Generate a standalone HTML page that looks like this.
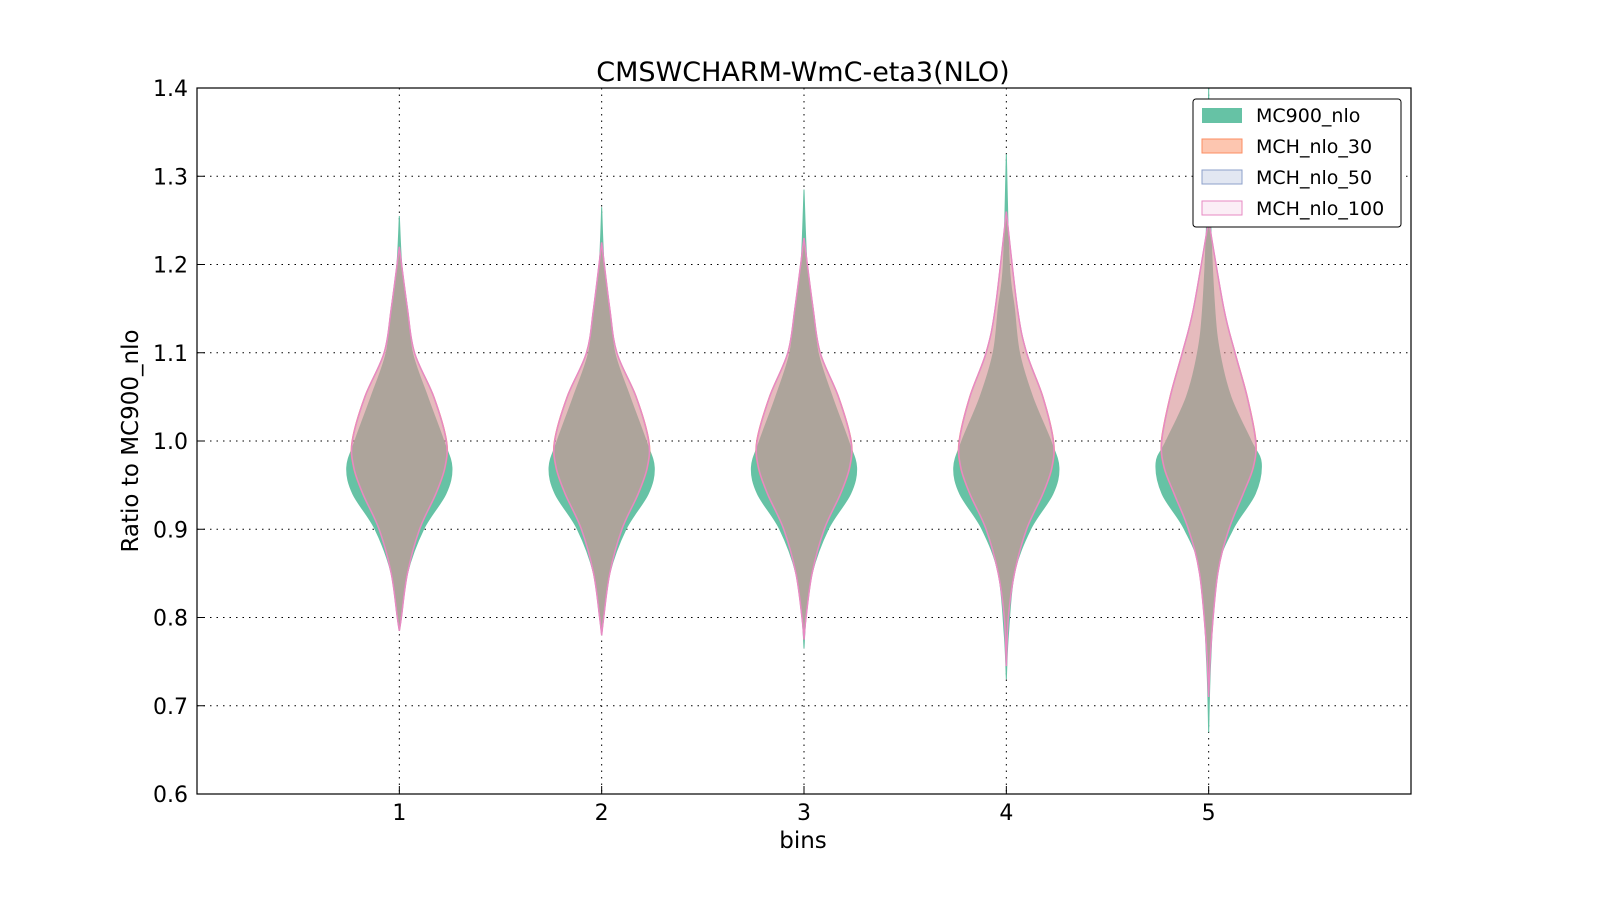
<!DOCTYPE html>
<html><head><meta charset="utf-8"><style>
body{margin:0;background:#fff}
svg text{font-family:"DejaVu Sans","Liberation Sans",sans-serif}
</style></head><body>
<svg id="c" width="1600" height="900" viewBox="0 0 1600 900" xmlns="http://www.w3.org/2000/svg">
<rect width="1600" height="900" fill="#fff"/>
<text x="803" y="81" font-size="27" text-anchor="middle">CMSWCHARM-WmC-eta3(NLO)</text>
<g id="grid"></g>
<g id="marks"></g>
<rect x="197" y="88" width="1214" height="706" fill="none" stroke="#000" stroke-width="1.2"/>
<g id="axes"></g>
<text x="803" y="848" font-size="23" text-anchor="middle">bins</text>
<text transform="translate(138,441) rotate(-90)" font-size="23" text-anchor="middle">Ratio to MC900_nlo</text>
<g>
<rect x="1193" y="99" width="208" height="128" rx="3" fill="#fff" stroke="#000" stroke-width="1"/>
<rect x="1202" y="108" width="40" height="15" fill="#66c2a5"/>
<text x="1256" y="122" font-size="19">MC900_nlo</text>
<rect x="1202" y="139" width="40" height="14" fill="rgba(252,141,98,0.5)" stroke="#fc8d62"/>
<text x="1256" y="153" font-size="19">MCH_nlo_30</text>
<rect x="1202" y="170" width="40" height="14" fill="rgba(141,160,203,0.25)" stroke="#8da0cb"/>
<text x="1256" y="184" font-size="19">MCH_nlo_50</text>
<rect x="1202" y="201" width="40" height="14" fill="rgba(231,138,195,0.15)" stroke="#e78ac3"/>
<text x="1256" y="215" font-size="19">MCH_nlo_100</text>
</g>
</svg>
<script>
const bins=[1,2,3,4,5];
const yTicks=[0.6,0.7,0.8,0.9,1.0,1.1,1.2,1.3,1.4];
const yTickLabels=["0.6","0.7","0.8","0.9","1.0","1.1","1.2","1.3","1.4"];
const greenLevels=[
[1.255,1.2,1.15,1.1,1.05,1.0,0.97,0.94,0.9,0.85,0.8,0.785],
[1.265,1.2,1.15,1.1,1.05,1.0,0.97,0.94,0.9,0.85,0.8,0.78],
[1.285,1.2,1.15,1.1,1.05,1.0,0.97,0.94,0.9,0.85,0.8,0.765],
[1.325,1.2,1.15,1.1,1.05,1.0,0.97,0.94,0.9,0.85,0.78,0.73],
[1.4,1.25,1.15,1.1,1.05,1.0,0.975,0.94,0.9,0.85,0.75,0.67]];
const greenWidths=[
[0,0.012,0.04,0.065,0.14,0.22,0.26,0.23,0.12,0.04,0.01,0],
[0,0.012,0.04,0.065,0.14,0.22,0.26,0.23,0.12,0.04,0.01,0],
[0,0.015,0.045,0.07,0.14,0.22,0.26,0.23,0.12,0.04,0.01,0],
[0,0.015,0.04,0.065,0.13,0.22,0.26,0.23,0.12,0.04,0.01,0],
[0,0.01,0.03,0.055,0.11,0.21,0.26,0.23,0.12,0.04,0.01,0]];
const pinkLevels=[
[1.22,1.15,1.1,1.05,1.0,0.97,0.94,0.9,0.85,0.8,0.785],
[1.225,1.15,1.1,1.05,1.0,0.97,0.94,0.9,0.85,0.8,0.78],
[1.23,1.15,1.1,1.05,1.0,0.97,0.94,0.9,0.85,0.8,0.775],
[1.26,1.15,1.1,1.05,1.0,0.97,0.94,0.9,0.85,0.8,0.745],
[1.25,1.15,1.1,1.05,1.0,0.97,0.94,0.9,0.85,0.77,0.71]];
const pinkWidths=[
[0,0.04,0.075,0.17,0.232,0.225,0.18,0.10,0.04,0.01,0],
[0,0.04,0.075,0.17,0.232,0.225,0.18,0.10,0.04,0.01,0],
[0,0.045,0.08,0.17,0.232,0.225,0.18,0.10,0.04,0.01,0],
[0,0.055,0.1,0.18,0.232,0.225,0.18,0.10,0.04,0.01,0],
[0,0.075,0.13,0.19,0.232,0.22,0.17,0.10,0.045,0.012,0]];
const NS='http://www.w3.org/2000/svg';
const X=v=>197+v*(1214/6), Y=v=>88+(1.4-v)*(706/0.8), W=w=>w*(1214/6);
function mk(t,a,p){const e=document.createElementNS(NS,t);for(const k in a)e.setAttribute(k,a[k]);p.appendChild(e);return e;}
const grid=document.getElementById('grid'),axes=document.getElementById('axes'),marks=document.getElementById('marks');
yTicks.forEach((t,i)=>{
 if(i>0&&i<yTicks.length-1){const l=mk('line',{x1:197,x2:1411,y1:Y(t),y2:Y(t),stroke:'#000','stroke-dasharray':'1.5,5','stroke-width':1},grid);
 }
 const tk=mk('line',{x1:197,x2:205,y1:Y(t),y2:Y(t),stroke:'#000'},axes);
 
 const tx=mk('text',{x:188,y:Y(t)+8,'font-size':22,'text-anchor':'end'},axes);tx.textContent=yTickLabels[i];
 
});
bins.forEach(b=>{
 const l=mk('line',{x1:X(b),x2:X(b),y1:88,y2:794,stroke:'#000','stroke-dasharray':'1.5,5','stroke-width':1},grid);
 
 const tk=mk('line',{x1:X(b),x2:X(b),y1:794,y2:786,stroke:'#000'},axes);
 
 const tx=mk('text',{x:X(b),y:820,'font-size':22,'text-anchor':'middle'},axes);tx.textContent=String(b);
 
});
function spline(pts){let d='M'+pts[0][0]+','+pts[0][1];
 for(let i=0;i<pts.length-1;i++){const p0=pts[Math.max(0,i-1)],p1=pts[i],p2=pts[i+1],p3=pts[Math.min(pts.length-1,i+2)];
 d+=' C'+(p1[0]+(p2[0]-p0[0])/6)+','+(p1[1]+(p2[1]-p0[1])/6)+' '+(p2[0]-(p3[0]-p1[0])/6)+','+(p2[1]-(p3[1]-p1[1])/6)+' '+p2[0]+','+p2[1];}
 return d;}
function violin(cx,lv,wd,scale){
 const r=lv.map((v,i)=>[cx+W(wd[i]*scale),Y(v)]);
 const l=lv.map((v,i)=>[cx-W(wd[i]*scale),Y(v)]).reverse();
 return spline(r)+' L'+spline(l).slice(1)+' Z';}
bins.forEach((b,i)=>{
 const cx=X(b);
 let p=mk('path',{d:violin(cx,greenLevels[i],greenWidths[i],1),fill:'#66c2a5',stroke:'#66c2a5','stroke-width':1},marks);
 
 p=mk('path',{d:violin(cx,pinkLevels[i],pinkWidths[i],1.01),fill:'rgba(252,141,98,0.45)',stroke:'#fc8d62','stroke-width':1},marks);
 
 p=mk('path',{d:violin(cx,pinkLevels[i],pinkWidths[i],1.0),fill:'rgba(141,160,203,0.2)',stroke:'#8da0cb','stroke-width':1},marks);
 
 p=mk('path',{d:violin(cx,pinkLevels[i],pinkWidths[i],1.0),fill:'rgba(231,138,195,0.15)',stroke:'#e78ac3','stroke-width':1.5},marks);
 
});
</script>
</body></html>
